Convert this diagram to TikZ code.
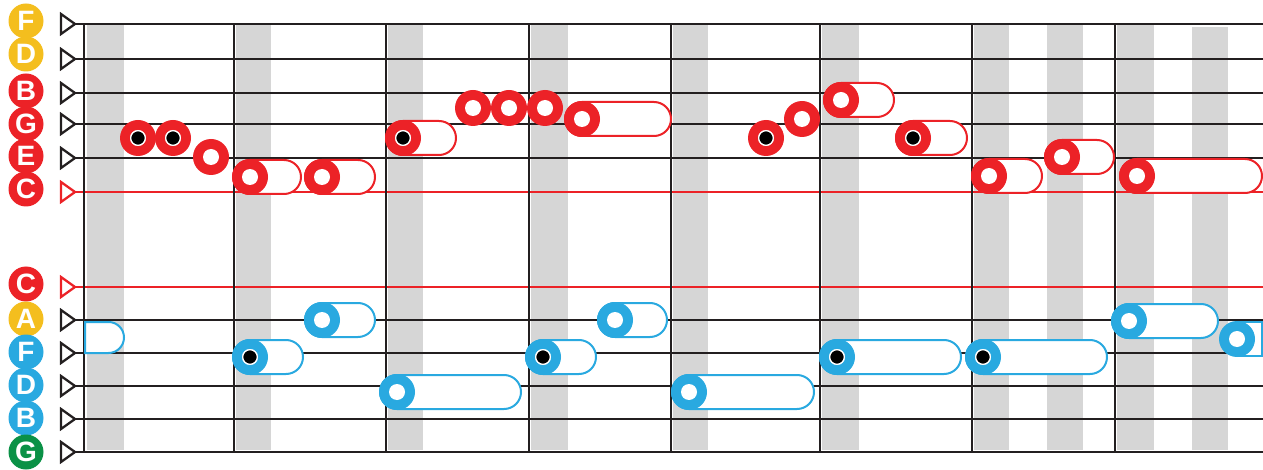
\documentclass[tikz,border=0pt]{standalone}
\usepackage{fontspec}
\setmainfont{Liberation Sans}
\definecolor{nred}{HTML}{EC2227}
\definecolor{nblue}{HTML}{29A9E0}
\definecolor{nyel}{HTML}{F4BE1E}
\definecolor{ngreen}{HTML}{0A9146}
\definecolor{ink}{HTML}{231F20}
\definecolor{stripe}{HTML}{D6D6D6}
\tikzset{
  lab/.style={circle,fill=#1,minimum size=35pt,inner sep=0pt,text=white,font=\bfseries\fontsize{28}{28}\selectfont},
  clef/.style={draw=#1,line width=2.3pt,line join=miter},
  staffline/.style={draw=#1,line width=2.5pt},
  barline/.style={draw=ink,line width=2.5pt},
  band/.style={fill=stripe},
  capsule/.style={draw=#1,fill=white,line width=2pt,rounded corners=17pt},
}
\newcommand\notering[3]{\fill[#1] (#2,#3) circle[radius=18]; \fill[white] (#2,#3) circle[radius=8];}
\newcommand\notedot[2]{\filldraw[fill=black,draw=white,line width=1.2pt] (#1,#2) circle[radius=7.3];}
\newcommand\notecap[4]{\draw[capsule=#1] (#2-17,#3-17) rectangle (#4-1,#3+17);}
\begin{document}
\begin{tikzpicture}[x=1pt,y=-1pt]
\useasboundingbox (0,0) rectangle (1263,470);
% gray bands
\foreach \a/\b in {87/124,236/271,388/423,531/568,673/708,822/859,974/1009,1047/1083,1117/1154}
  \fill[band] (\a,24) rectangle (\b,450);
\fill[band] (1192,27) rectangle (1228,450);
% staff lines
\foreach \y in {24,59,93,124,158,320,353,386,419,452}
  \draw[staffline=ink] (75,\y) -- (1263,\y);
\foreach \y in {192,287}
  \draw[staffline=nred, line width=2pt] (75,\y) -- (1263,\y);
% bar lines
\foreach \x in {84,234,386,529,671,820,972,1115}
  \draw[barline] (\x,24) -- (\x,451);
% clef triangles
\foreach \y in {24,59,93,124,158,320,353,386,419,452}
  \draw[clef=ink] (61,\y-10) -- (75,\y) -- (61,\y+10) -- cycle;
\foreach \y in {192,287}
  \draw[clef=nred] (61,\y-10) -- (75,\y) -- (61,\y+10) -- cycle;
% labels
\node[lab=nyel]   (tF) at (26,21)  {F};
\node[lab=nyel]   (tD) at (26,54)  {D};
\node[lab=nred]   (tB) at (26,91)  {B};
\node[lab=nred]   (tG) at (26,124) {G};
\node[lab=nred]   (tE) at (26,156) {E};
\node[lab=nred]   (tC) at (26,189) {C};
\node[lab=nred]   (bC) at (26,284) {C};
\node[lab=nyel]   (bA) at (26,319) {A};
\node[lab=nblue]  (bF) at (26,352) {F};
\node[lab=nblue]  (bD) at (26,385) {D};
\node[lab=nblue]  (bB) at (26,418) {B};
\node[lab=ngreen] (bG) at (26,452) {G};
% red notes
\notering{nred}{138}{138}\notedot{138}{138}
\notering{nred}{173}{138}\notedot{173}{138}
\notering{nred}{211}{157}
\notecap{nred}{250}{177}{302}\notering{nred}{250}{177}
\notecap{nred}{322}{177}{376}\notering{nred}{322}{177}
\notecap{nred}{403}{138}{457}\notering{nred}{403}{138}\notedot{403}{138}
\notering{nred}{473}{108}
\notering{nred}{509}{108}
\notering{nred}{545}{108}
\notecap{nred}{582}{119}{672}\notering{nred}{582}{119}
\notering{nred}{766}{138}\notedot{766}{138}
\notering{nred}{802}{119}
\notecap{nred}{841}{100}{895}\notering{nred}{841}{100}
\notecap{nred}{913}{138}{968}\notering{nred}{913}{138}\notedot{913}{138}
\notecap{nred}{989}{176}{1043}\notering{nred}{989}{176}
\notecap{nred}{1062}{157}{1115}\notering{nred}{1062}{157}
\notecap{nred}{1137}{176}{1263}\notering{nred}{1137}{176}
% blue notes
\draw[draw=nblue,fill=white,line width=2pt] (85,322) [rounded corners=15.5pt] -- (124,322) -- (124,353) [sharp corners] -- (85,353) -- cycle;
\notecap{nblue}{250}{357}{304}\notering{nblue}{250}{357}\notedot{250}{357}
\notecap{nblue}{322}{320}{376}\notering{nblue}{322}{320}
\notecap{nblue}{397}{392}{522}\notering{nblue}{397}{392}
\notecap{nblue}{543}{357}{597}\notering{nblue}{543}{357}\notedot{543}{357}
\notecap{nblue}{615}{320}{668}\notering{nblue}{615}{320}
\notecap{nblue}{689}{392}{815}\notering{nblue}{689}{392}
\notecap{nblue}{837}{357}{962}\notering{nblue}{837}{357}\notedot{837}{357}
\notecap{nblue}{983}{357}{1108}\notering{nblue}{983}{357}\notedot{983}{357}
\notecap{nblue}{1129}{321}{1219}\notering{nblue}{1129}{321}
\draw[draw=nblue,fill=white,line width=2pt] (1237,322) rectangle (1262,356);
\notering{nblue}{1237}{339}
\end{tikzpicture}
\end{document}
